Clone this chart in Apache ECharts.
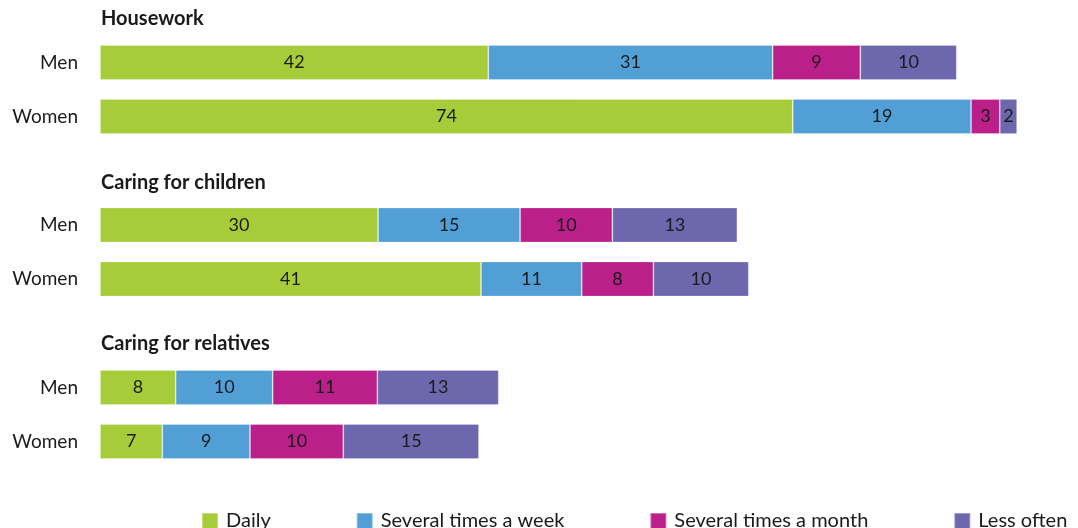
<!DOCTYPE html>
<html>
<head>
<meta charset="utf-8">
<script src="https://cdn.jsdelivr.net/npm/echarts@6/dist/echarts.min.js"></script>
<style>
html,body{margin:0;padding:0;background:#fff;}
#chart{width:1078px;height:528px;}
</style>
</head>
<body>
<div id="chart"></div>
<script>
const groups = ['Housework', 'Caring for children', 'Caring for relatives'];
const genders = ['Men', 'Women'];
const seriesNames = ['Daily', 'Several times a week', 'Several times a month', 'Less often'];
const colors = ['#a6cd39', '#529fd6', '#bb1f8a', '#6d67ad'];
// values per group: [Men, Women]
const daily = [[41.75, 74.49], [29.9, 40.97], [8.14, 6.7]];
const weekly = [[30.58, 19.17], [15.27, 10.83], [10.43, 9.43]];
const monthly = [[9.42, 3.09], [9.92, 7.7], [11.25, 10.03]];
const lessOften = [[10.37, 1.86], [13.44, 10.26], [13.05, 14.59]];
const allValues = [daily, weekly, monthly, lessOften];

const FONT = 'Lato';
const gridTops = [35.5, 198, 360.5];
const titleTops = [4, 168, 329];

const grids = gridTops.map(t => ({left: 100, width: 930, top: t, height: 108}));
const xAxes = grids.map((g, i) => ({gridIndex: i, type: 'value', min: 0, max: 100, show: false}));
const yAxes = grids.map((g, i) => ({
  gridIndex: i, type: 'category', data: genders, inverse: true,
  axisLine: {show: false}, axisTick: {show: false},
  axisLabel: {color: '#1a1a1a', fontSize: 19, fontFamily: FONT, margin: 22}
}));
const series = [];
groups.forEach((g, gi) => {
  seriesNames.forEach((name, si) => {
    series.push({
      name: name, type: 'bar', stack: 'g' + gi,
      xAxisIndex: gi, yAxisIndex: gi,
      barWidth: 35,
      data: allValues[si][gi],
      itemStyle: {color: colors[si], borderColor: 'rgba(255,255,255,0.35)', borderWidth: 0.8},
      label: {show: true, position: 'inside', color: '#1a1a1a', fontSize: 18, fontFamily: FONT,
        formatter: p => Math.round(p.value)},
      emphasis: {disabled: true}
    });
  });
});

const chart = echarts.init(document.getElementById('chart'));
chart.setOption({
  animation: false,
  textStyle: {fontFamily: FONT},
  title: groups.map((g, i) => ({
    text: g, left: 96, top: titleTops[i],
    textStyle: {fontSize: 20, fontWeight: 'bold', color: '#1a1a1a', fontFamily: FONT}
  })),
  grid: grids, xAxis: xAxes, yAxis: yAxes,
  legend: {
    data: seriesNames, left: 196, top: 506,
    itemWidth: 16, itemHeight: 16, itemGap: 85,
    icon: 'rect',
    textStyle: {fontSize: 20, color: '#1a1a1a', fontFamily: FONT, padding: [0, 0, 0, 3]}
  },
  series: series
});
</script>
</body>
</html>
